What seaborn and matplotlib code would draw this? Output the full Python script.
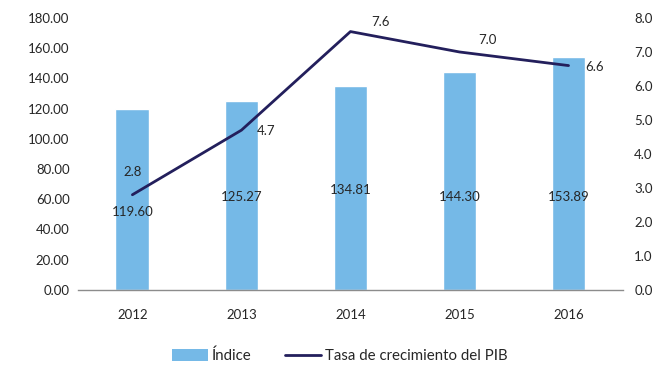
import numpy as np
import pandas as pd
import matplotlib
matplotlib.use("Agg")
import matplotlib.pyplot as plt
from matplotlib.patches import Patch
from matplotlib.lines import Line2D
import seaborn as sns

years = ["2012", "2013", "2014", "2015", "2016"]
indice = [119.60, 125.27, 134.81, 144.30, 153.89]
tasa_pib = [2.8, 4.7, 7.6, 7.0, 6.6]

left_ticks = [0, 20, 40, 60, 80, 100, 120, 140, 160, 180]
right_ticks = [0, 1, 2, 3, 4, 5, 6, 7, 8]

bar_color = "#75B9E7"
line_color = "#231F5C"
text_color = "#262626"

sns.set_theme(style="white")
plt.rcParams["font.family"] = ["Lato", "DejaVu Sans"]
plt.rcParams["text.color"] = text_color

df = pd.DataFrame({"year": years, "indice": indice, "tasa": tasa_pib})
df["pos"] = np.arange(len(df))

fig = plt.figure(figsize=(6.6, 3.67), dpi=100)
ax = fig.add_axes([0.118, 0.210, 0.826, 0.741])
ax2 = ax.twinx()

sns.barplot(data=df, x="year", y="indice", color=bar_color, width=0.31,
            saturation=1, ax=ax, zorder=1)
sns.lineplot(data=df, x="pos", y="tasa", color=line_color, linewidth=2.0,
             ax=ax2, zorder=3)

ax.set_ylim(0, 180)
ax.set_xlim(-0.5, len(years) - 0.5)
ax2.set_ylim(0, 8)
ax.set_yticks(left_ticks)
ax.set_yticklabels([f"{v:.2f}" for v in left_ticks])
ax2.set_yticks(right_ticks)
ax2.set_yticklabels([f"{v:.1f}" for v in right_ticks])
ax.set_xlabel("")
ax.set_ylabel("")
ax2.set_xlabel("")
ax2.set_ylabel("")

for a in (ax, ax2):
    for s in ("top", "left", "right", "bottom"):
        a.spines[s].set_visible(False)
    a.tick_params(length=0, labelsize=9.5, colors=text_color)
ax.spines["bottom"].set_visible(True)
ax.spines["bottom"].set_color("#8c8c8c")
ax.spines["bottom"].set_linewidth(1.0)
ax.tick_params(axis="x", pad=14)
ax.tick_params(axis="y", pad=6)
ax2.tick_params(axis="y", pad=8)

# value labels inside the bars
bar_label_heights = [51.6, 61.5, 66.0, 61.5, 61.5]
for i, (v, h) in enumerate(zip(indice, bar_label_heights)):
    ax.text(i, h, f"{v:.2f}", ha="center", va="center", fontsize=9.5,
            color=text_color, zorder=5)

# growth labels next to the line points
line_label_offsets = [(0.0, 0.68), (0.23, -0.03), (0.28, 0.28), (0.26, 0.35), (0.24, -0.03)]
for i, (v, (dx, dy)) in enumerate(zip(tasa_pib, line_label_offsets)):
    ax2.text(i + dx, v + dy, f"{v:.1f}", ha="center", va="center", fontsize=9.5,
             color=text_color, zorder=5)

handles = [Patch(facecolor=bar_color, edgecolor="none"),
           Line2D([0], [0], color=line_color, linewidth=2.0)]
fig.legend(handles, ["Índice", "Tasa de crecimiento del PIB"], loc="center",
           bbox_to_anchor=(0.515, 0.03), ncol=2, frameon=False, fontsize=10.8,
           handlelength=2.4, handleheight=0.8, columnspacing=2.2, handletextpad=0.25)

fig.savefig("out.png", dpi=100)
